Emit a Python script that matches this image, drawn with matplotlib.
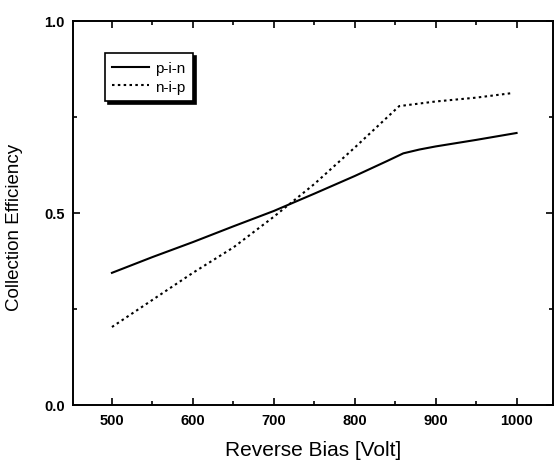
import matplotlib
matplotlib.use("Agg")
import matplotlib.pyplot as plt
from matplotlib.ticker import MultipleLocator

plt.rcParams['font.family'] = ['Liberation Sans', 'DejaVu Sans']

pin_x = [500, 550, 600, 650, 700, 750, 800, 840, 860, 880, 900, 950, 1000]
pin_y = [0.344, 0.385, 0.424, 0.465, 0.505, 0.55, 0.596, 0.635, 0.655, 0.665, 0.673, 0.69, 0.708]
nip_x = [500, 600, 650, 700, 750, 800, 855, 900, 950, 995]
nip_y = [0.203, 0.344, 0.41, 0.49, 0.575, 0.67, 0.778, 0.79, 0.80, 0.812]

fig = plt.figure(figsize=(5.58, 4.64), dpi=100)
ax = fig.add_axes([0.131, 0.125, 0.860, 0.828])

ax.plot(pin_x, pin_y, color='black', lw=1.5, ls='-', label='p-i-n')
ax.plot(nip_x, nip_y, color='black', lw=1.5, ls=(0, (1.2, 1.6)), label='n-i-p')

ax.set_xlim(452, 1045)
ax.set_ylim(0.0, 1.0)
ax.xaxis.set_major_locator(MultipleLocator(100))
ax.xaxis.set_minor_locator(MultipleLocator(50))
ax.yaxis.set_major_locator(MultipleLocator(0.5))
ax.yaxis.set_minor_locator(MultipleLocator(0.25))
ax.yaxis.set_major_formatter(matplotlib.ticker.FormatStrFormatter('%.1f'))
ax.tick_params(which='both', direction='in', top=True, right=True, width=1.2)
ax.tick_params(which='major', length=5, labelsize=10.5, pad=6)
ax.tick_params(which='minor', length=3)
for lab in ax.get_xticklabels() + ax.get_yticklabels():
    lab.set_fontweight('bold')
for sp in ax.spines.values():
    sp.set_linewidth(1.4)

ax.set_xlabel('Reverse Bias [Volt]', fontsize=15, labelpad=9)
ax.set_ylabel('Collection Efficiency', fontsize=13.5)
ax.yaxis.set_label_coords(-0.105, 0.466)

leg = ax.legend(loc='upper left', bbox_to_anchor=(0.05, 0.935), frameon=True,
                fancybox=False, shadow={'color': 'black', 'alpha': 1.0},
                handlelength=2.4, fontsize=11, borderpad=0.5, handletextpad=0.4,
                labelspacing=0.3)
leg.get_frame().set_edgecolor('black')
leg.get_frame().set_linewidth(1.2)

fig.savefig('out.png', dpi=100)
